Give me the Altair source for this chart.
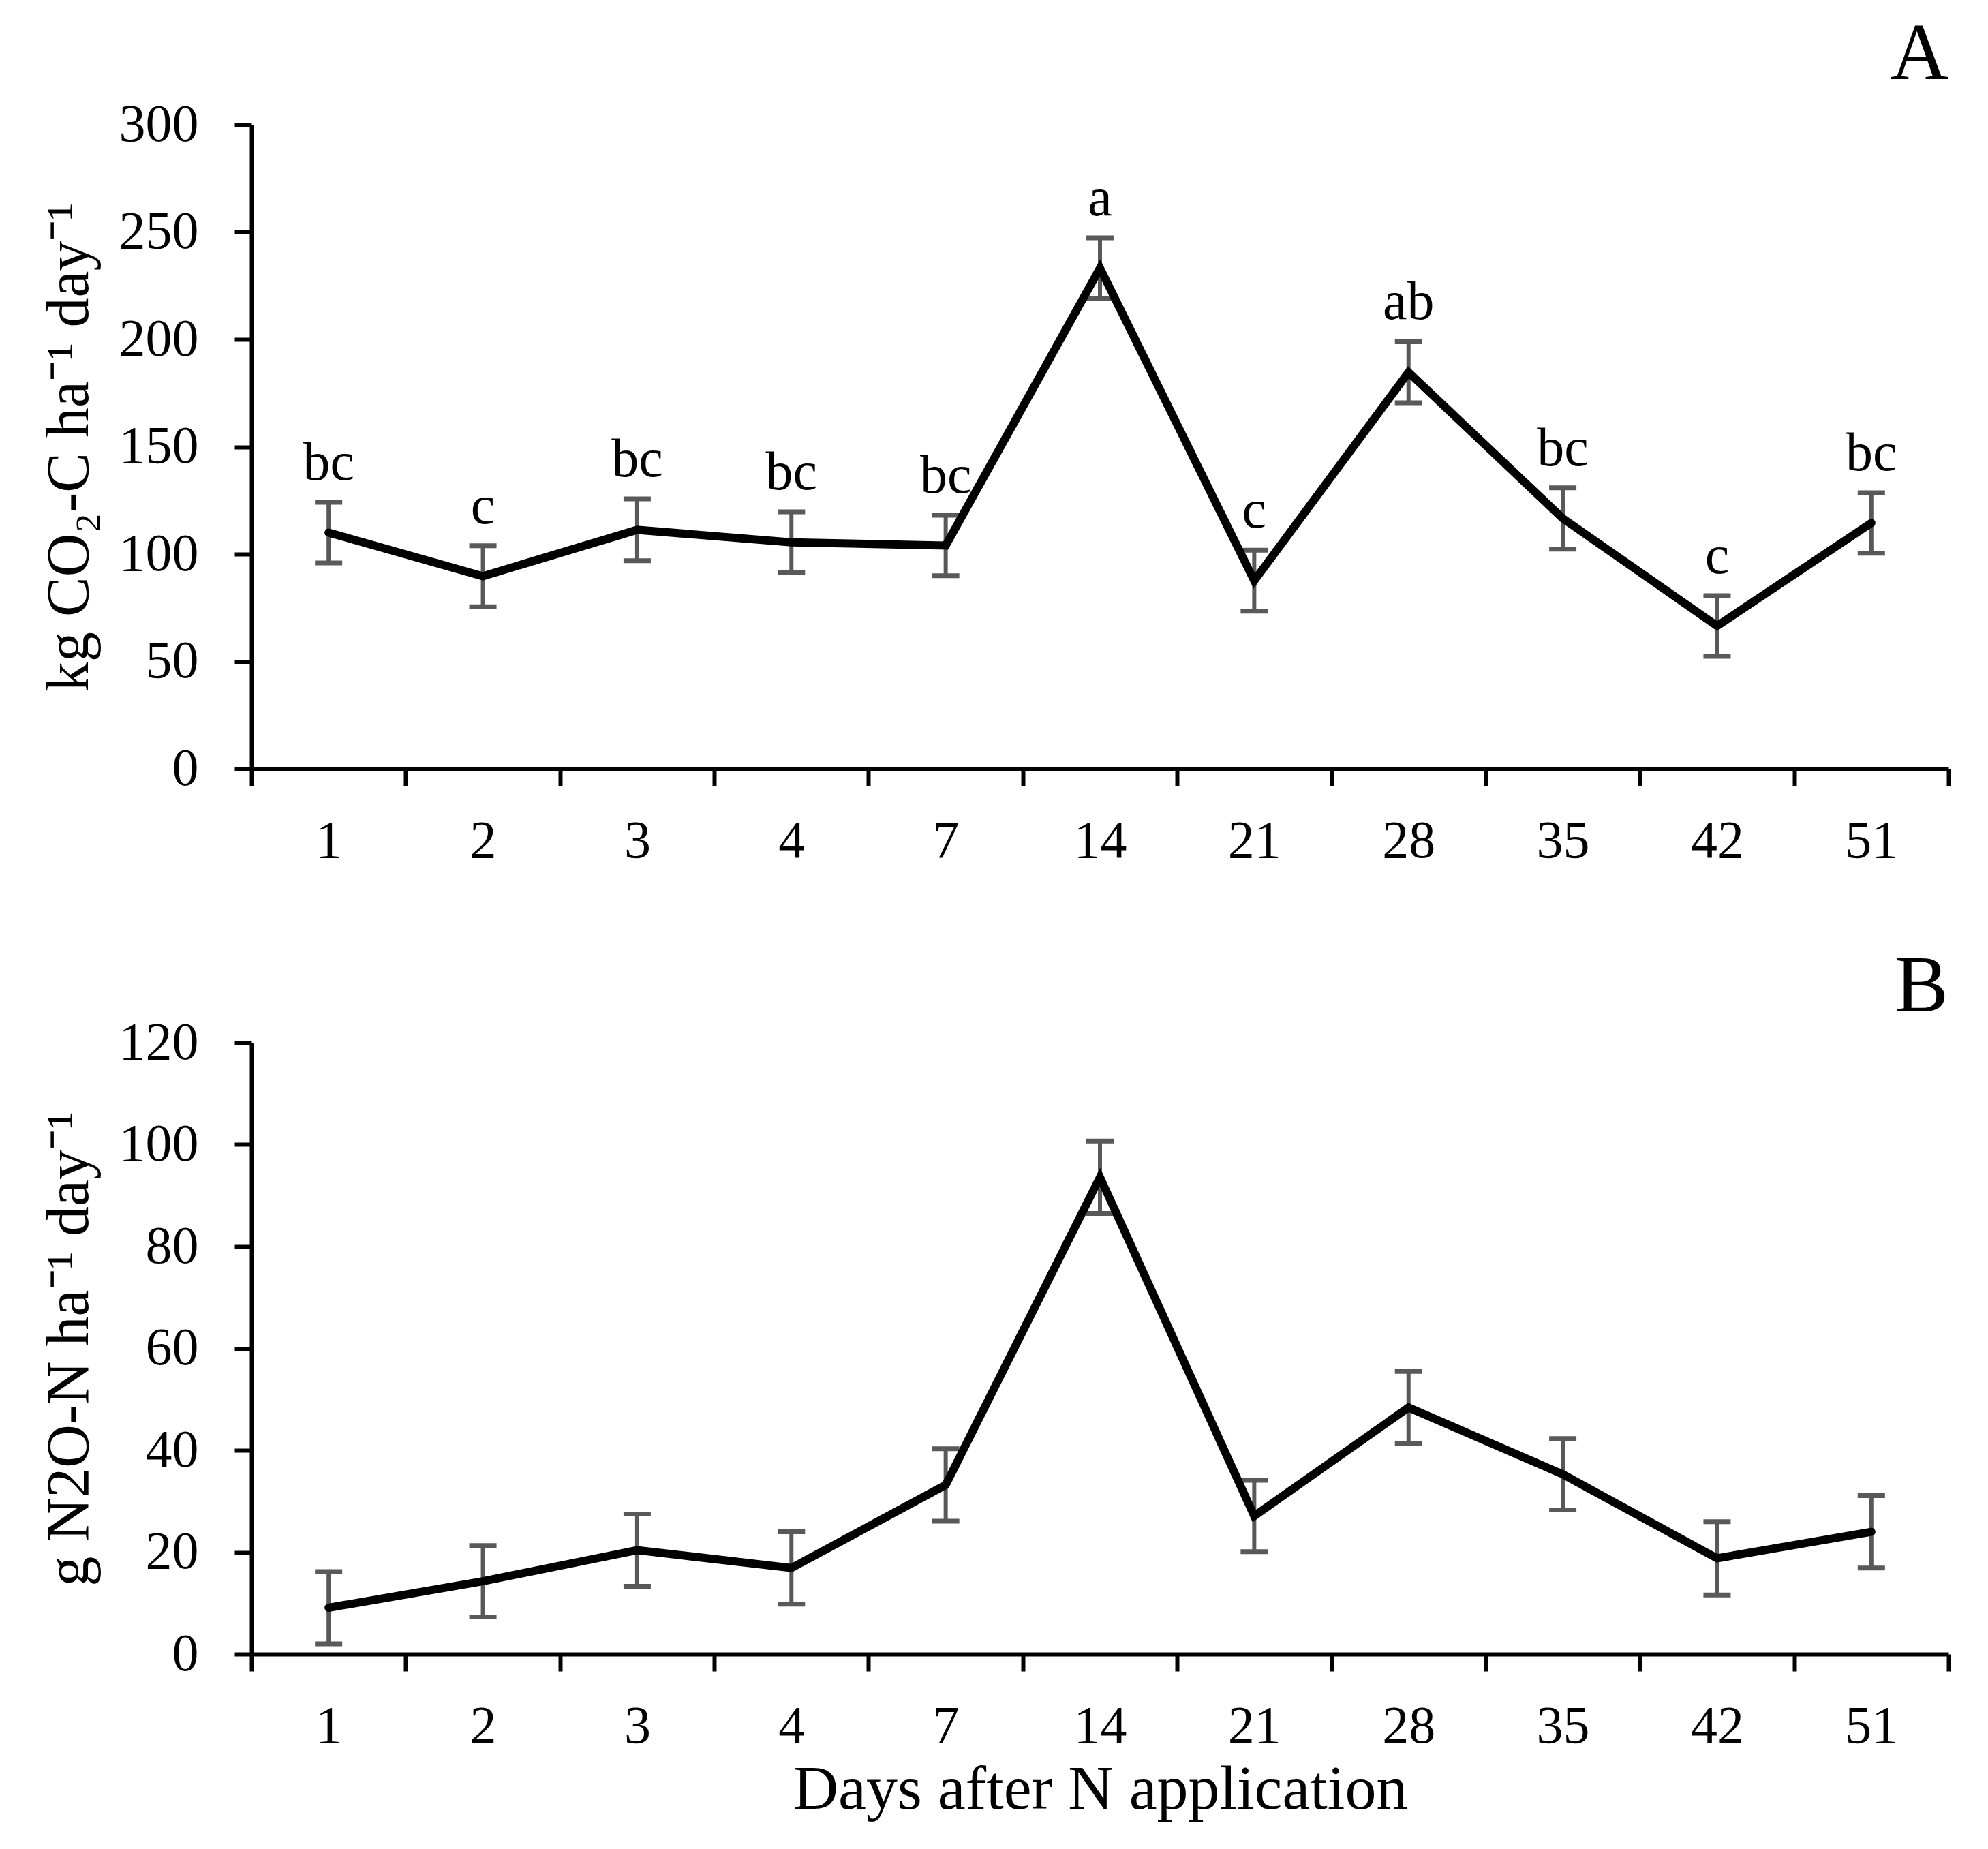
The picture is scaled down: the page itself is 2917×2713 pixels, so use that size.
import altair as alt
import pandas as pd

days = ['1', '2', '3', '4', '7', '14', '21', '28', '35', '42', '51']
co2 = [110.0, 89.7, 111.3, 105.5, 104.0, 233.2, 87.6, 184.7, 116.6, 66.5, 114.5]
co2_err = [14.1, 14.2, 14.4, 14.2, 14.1, 14.1, 14.2, 14.2, 14.3, 14.1, 14.1]
co2_letters = ['bc', 'c', 'bc', 'bc', 'bc', 'a', 'c', 'ab', 'bc', 'c', 'bc']
n2o = [9.1, 14.3, 20.4, 16.9, 33.2, 93.6, 27.1, 48.4, 35.3, 18.8, 24.0]
n2o_err = [7.1, 7.0, 7.1, 7.1, 7.1, 7.1, 7.0, 7.1, 7.0, 7.2, 7.1]

FONT = 'Liberation Serif'
ERR_COL = '#595959'
W = 2490

df_co2 = pd.DataFrame({'day': days, 'val': co2, 'err': co2_err, 'lab': co2_letters})
df_co2['lo'] = df_co2['val'] - df_co2['err']
df_co2['hi'] = df_co2['val'] + df_co2['err']

df_n2o = pd.DataFrame({'day': days, 'val': n2o, 'err': n2o_err})
df_n2o['lo'] = df_n2o['val'] - df_n2o['err']
df_n2o['hi'] = df_n2o['val'] + df_n2o['err']


def x_enc(title):
    return alt.X('day:O', sort=days, bandPosition=0.5,
                 scale=alt.Scale(type='band', paddingInner=0, paddingOuter=0),
                 axis=alt.Axis(title=title, labelAngle=0, tickBand='extent',
                               labelPadding=42, titlePadding=8, titleFontSize=92))


def panel(df, ymax, ystep, ytitle, xtitle, letter, letter_off, height, labels=False):
    base = alt.Chart(df)
    y = alt.Y('val:Q', scale=alt.Scale(domain=[0, ymax], nice=False),
              axis=alt.Axis(title=ytitle, values=list(range(0, ymax + 1, ystep)),
                            titleFontSize=88, titlePadding=28, labelPadding=53))
    stems = base.mark_rule(color=ERR_COL, strokeWidth=6).encode(
        x=x_enc(xtitle), y='lo:Q', y2='hi:Q')
    cap_lo = base.mark_tick(color=ERR_COL, thickness=7, size=40, opacity=1).encode(
        x=x_enc(xtitle), y='lo:Q')
    cap_hi = base.mark_tick(color=ERR_COL, thickness=7, size=40, opacity=1).encode(
        x=x_enc(xtitle), y='hi:Q')
    line = base.mark_line(color='black', strokeWidth=12, strokeCap='round').encode(
        x=x_enc(xtitle), y=y)
    layers = [stems, cap_lo, cap_hi, line]
    if labels:
        txt = base.mark_text(font=FONT, fontSize=80, color='black',
                             baseline='alphabetic', dy=-33).encode(
            x=x_enc(xtitle), y='hi:Q', text='lab:N')
        layers.append(txt)
    return alt.layer(*layers).properties(
        width=W, height=height,
        title=alt.TitleParams(letter, anchor='end', frame='group', fontSize=118,
                              font=FONT, fontWeight='normal', baseline='bottom',
                              offset=letter_off, color='black'))


top = panel(df_co2, 300, 50, 'kg CO₂-C ha⁻¹ day⁻¹', None, 'A', -115, 945, labels=True)
bottom = panel(df_n2o, 120, 20, 'g N2O-N ha⁻¹ day⁻¹', 'Days after N application', 'B', -136, 897)

chart = alt.vconcat(top, bottom, spacing=117).properties(
    padding={'left': 50, 'top': 14, 'right': 30, 'bottom': 10},
    background='white'
).configure_view(stroke=None).configure_axis(
    grid=False, domainColor='black', domainWidth=6, tickColor='black', tickWidth=6,
    tickSize=25, labelFont=FONT, labelFontSize=78, labelColor='black',
    titleFont=FONT, titleFontWeight='normal', titleColor='black'
)

chart.save('out.html', embed_options={'renderer': 'svg', 'actions': False})
